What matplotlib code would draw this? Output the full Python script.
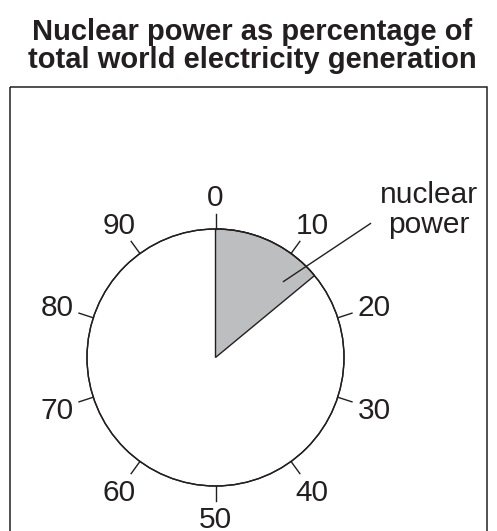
"""
Nuclear power share of world electricity, drawn as a dial-style pie.
"""

import numpy as np
import matplotlib.pyplot as plt
from matplotlib.patches import Circle, Wedge, Rectangle

plt.rcParams['font.family'] = ['Liberation Sans', 'DejaVu Sans']

# data
nuclear_share = 14  # percent of total world electricity
tick_values = [0, 10, 20, 30, 40, 50, 60, 70, 80, 90]
title = "Nuclear power as percentage of\ntotal world electricity generation"
slice_label = "nuclear\npower"


def main():
    fig = plt.figure(figsize=(4.97, 5.31), dpi=100)
    ax = fig.add_axes([0, 0, 1, 1])
    ax.set_xlim(0, 497)
    ax.set_ylim(531, 0)
    ax.set_aspect('equal')
    ax.axis('off')

    cx, cy, r = 215.5, 357.5, 128.5
    ink = '#231f20'

    # outer frame (runs off the bottom of the picture)
    ax.add_patch(Rectangle((9.5, 86.5), 477.5, 460, fill=False,
                           edgecolor=ink, lw=1.1))

    # full circle and nuclear slice (clockwise from 12 o'clock)
    ax.add_patch(Circle((cx, cy), r, facecolor='white', edgecolor=ink, lw=1.0))
    # y axis is inverted, so angles run clockwise on screen
    ax.add_patch(Wedge((cx, cy), r, -90, -90 + nuclear_share * 3.6,
                       facecolor='#bcbec0', edgecolor=ink, lw=1.0))
    ax.add_patch(Circle((cx, cy), r, fill=False, edgecolor=ink, lw=1.0))

    # ticks and labels
    for v in tick_values:
        th = np.deg2rad(v * 3.6)
        sx, sy = np.sin(th), -np.cos(th)
        ax.plot([cx + r * sx, cx + (r + 15) * sx],
                [cy + r * sy, cy + (r + 15) * sy], color=ink, lw=1.0)
        lr = 161 + 6 * abs(sx)
        ax.text(cx + lr * sx, cy + lr * sy + 2, str(v), fontsize=21.5,
                color=ink, ha='center', va='center')

    # leader line to slice label
    ax.plot([283.5, 370.5], [281.5, 223.5], color=ink, lw=1.0)
    ax.text(429, 210, slice_label, fontsize=21.5, color=ink,
            ha='center', va='center', linespacing=1.12)

    ax.text(252, 46, title, fontsize=21, fontweight='bold', color=ink,
            ha='center', va='center', linespacing=1.0)

    fig.savefig('out.png', dpi=100)


if __name__ == '__main__':
    main()
